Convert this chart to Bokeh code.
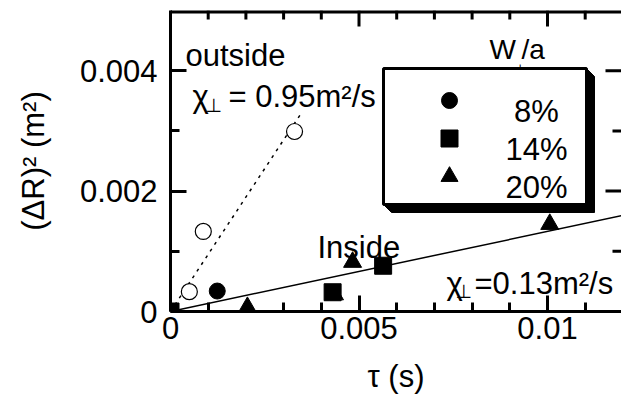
from bokeh.plotting import figure
from bokeh.models import Range1d, FixedTicker
from bokeh.core.properties import value
from bokeh.embed import file_html
from bokeh.resources import INLINE

FONT = "Liberation Sans"
SYM_FONT = "DejaVu Sans"

# ---------------- data ----------------
outside_tau = [0.0005, 0.00087, 0.00329]
outside_dr2 = [0.00033, 0.00133, 0.00299]

w8_tau = [0.00124]
w8_dr2 = [0.00034]

w14_tau = [0.0, 0.0043, 0.00564]
w14_dr2 = [0.0, 0.00032, 0.00076]

w20_tau = [0.00204, 0.00435, 0.00483, 0.01006]
w20_dr2 = [0.00007, 0.00028, 0.00082, 0.00145]

chi_outside = 0.95          # slope of dotted fit (m^2/s)
chi_inside = 0.133          # slope of solid fit (m^2/s)
outside_fit_tau = [0.0, 0.00345]
inside_fit_tau = [0.0, 0.012]

x_major = [0, 0.005, 0.01]
x_major_labels = ["0", "0.005", "0.01"]
x_minor = [0.001, 0.002, 0.003, 0.004, 0.006, 0.007, 0.008, 0.009, 0.011]
y_major = [0, 0.002, 0.004]
y_major_labels = ["0", "0.002", "0.004"]
y_minor = [0.001, 0.003]

x_title = "τ (s)"
y_title = "(ΔR)² (m²)"
legend_title = "W"
legend_labels = ["8%", "14%", "20%"]
legend_markers = ["circle", "square", "triangle"]

# ---------------- layout ----------------
W, H = 621, 405
L, T, B, R = 170, 10, 94, 0
PXX = 37700.0    # pixels per unit tau
PXY = 60200.0    # pixels per unit (dR)^2
x_end = (W - L - R) / PXX
y_end = 0.005
MAJ, MIN = 16, 9


def X(px):
    return (px - L) / PXX


def Y(py):
    return (H - B - py) / PXY


p = figure(width=W, height=H, x_range=Range1d(0, x_end), y_range=Range1d(0, y_end),
           output_backend="svg", toolbar_location=None,
           min_border_left=L, min_border_right=R, min_border_top=T, min_border_bottom=B,
           background_fill_color="white", border_fill_color="white")
p.outline_line_color = None
p.grid.visible = False


def style_axis(ax, ticks, minor, labels):
    ax.ticker = FixedTicker(ticks=ticks, minor_ticks=minor)
    ax.major_tick_in = MAJ
    ax.major_tick_out = 0
    ax.minor_tick_in = MIN
    ax.minor_tick_out = 0
    ax.major_tick_line_width = 3
    ax.minor_tick_line_width = 3
    ax.major_tick_line_color = "black"
    ax.minor_tick_line_color = "black"
    ax.axis_line_width = 3
    ax.axis_line_color = "black"
    ax.major_label_overrides = {t: l for t, l in zip(ticks, labels)}
    ax.major_label_text_font = FONT
    ax.major_label_text_font_size = "31px"
    ax.major_label_text_color = "black"
    ax.axis_label_text_font = FONT
    ax.axis_label_text_font_size = "31px"
    ax.axis_label_text_font_style = "normal"
    ax.axis_label_text_color = "black"


xa = p.below[0]
style_axis(xa, x_major, x_minor, x_major_labels)
xa.major_label_standoff = 5
xa.axis_label = x_title
xa.axis_label_standoff = 17

ya = p.left[0]
style_axis(ya, y_major, y_minor, y_major_labels)
ya.major_label_standoff = 13
ya.axis_label = y_title
ya.axis_label_standoff = 26

# top border and inward ticks on the top and right edges
p.segment(x0=[0], x1=[x_end], y0=[y_end], y1=[y_end], line_color="black", line_width=6)
p.segment(x0=x_major, x1=x_major, y0=[y_end] * len(x_major),
          y1=[y_end - MAJ / PXY] * len(x_major), line_color="black", line_width=3)
p.segment(x0=x_minor, x1=x_minor, y0=[y_end] * len(x_minor),
          y1=[y_end - MIN / PXY] * len(x_minor), line_color="black", line_width=3)
p.segment(x0=[x_end] * len(y_major), x1=[x_end - MAJ / PXX] * len(y_major),
          y0=y_major, y1=y_major, line_color="black", line_width=3)
p.segment(x0=[x_end] * len(y_minor), x1=[x_end - MIN / PXX] * len(y_minor),
          y0=y_minor, y1=y_minor, line_color="black", line_width=3)

# ---------------- fit lines ----------------
p.line(outside_fit_tau, [chi_outside * t for t in outside_fit_tau],
       line_color="black", line_width=1.5, line_dash="3 5")
p.line(inside_fit_tau, [chi_inside * t for t in inside_fit_tau],
       line_color="black", line_width=1.5)

# ---------------- data markers ----------------
p.scatter(outside_tau, outside_dr2, marker="circle", size=16,
          fill_color="white", line_color="black", line_width=1.2)
p.scatter(w20_tau, w20_dr2, marker="triangle", size=18,
          fill_color="black", line_color="black")
p.scatter(w8_tau, w8_dr2, marker="circle", size=16,
          fill_color="black", line_color="black")
p.scatter(w14_tau, w14_dr2, marker="square", size=17,
          fill_color="black", line_color="black")


# ---------------- annotations in the frame ----------------
def txt(px, py, s, size="31px", align="left", font=FONT):
    p.text(x=[X(px)], y=[Y(py)], text=[s], text_font=value(font), text_font_size=size,
           text_align=align, text_baseline="alphabetic", text_color="black")


txt(185, 55, "outside")
txt(192, 96, "χ")
txt(205, 104, "⊥", size="19px", font=SYM_FONT)
txt(228, 96, "= %.2fm²/s" % chi_outside)

txt(317, 247, "Inside")
txt(446, 283, "χ")
txt(455, 290, "⊥", size="19px", font=SYM_FONT)
txt(474, 283, "=0.13m²/s")

# legend title
txt(489, 49, legend_title, size="28px")
txt(513, 69, "⊥", size="15px", font=SYM_FONT)
txt(521, 49, "/a", size="28px")

# legend box with bevelled shadow
bx0, bx1, by0, by1 = 383, 586, 68, 204
sh = 8
p.patch([X(bx0), X(bx1), X(bx1 + sh), X(bx1 + sh), X(bx0 + sh), X(bx0)],
        [Y(by0), Y(by0), Y(by0 + sh), Y(by1 + sh), Y(by1 + sh), Y(by1)],
        fill_color="black", line_color="black", line_width=1)
p.quad(left=[X(bx0)], right=[X(bx1)], top=[Y(by0)], bottom=[Y(by1)],
       fill_color="white", line_color="black", line_width=3)

row_y = [100, 138, 176]
for mk, lab, ry in zip(legend_markers, legend_labels, row_y):
    p.scatter([X(449)], [Y(ry)], marker=mk, size=17 if mk != "circle" else 16,
              fill_color="black", line_color="black")
    txt(536, ry + 11, lab, align="center")

open("out.html", "w").write(file_html(p, INLINE))
